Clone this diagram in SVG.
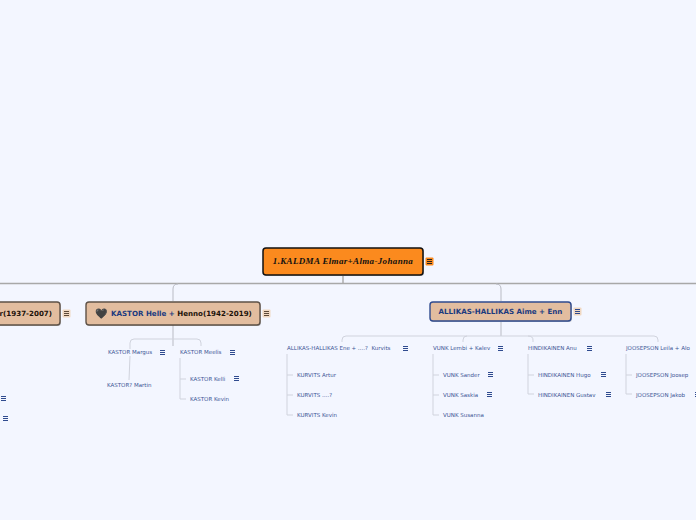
<svg xmlns="http://www.w3.org/2000/svg" width="696" height="520" viewBox="0 0 696 520">
<style>
text{font-family:"DejaVu Sans",Verdana,sans-serif}
.s{font-size:5.5px;fill:#3c5595;white-space:pre}
.m{font-size:7.1px;font-weight:bold;fill:#1a3a80}
.k{fill:#1c120a}
.c{fill:none;stroke:#d0d3dd;stroke-width:1}
.g{fill:none;stroke:#a8a8a8;stroke-width:1.4}
.d{fill:none;stroke:#b9bbc4;stroke-width:1}
.n{stroke:#2f4b8f;stroke-width:1;fill:none}
.box{fill:#e2bd9f;stroke:#5e5247;stroke-width:1.4}
.bg{fill:#f0d8c2}
.mi{stroke:#5c4a3a;stroke-width:1;fill:none}
.shadow{fill:#000;opacity:.22}
</style>
<defs>
<path id="nt" d="M0 .5h5M0 2.500h5M0 4.500h5" class="n"/>
<g id="mt"><rect x="-1.5" y="-1.500" width="8" height="8" rx="1" class="bg"/><path d="M0 .5h5M0 2.500h5M0 4.500h5" class="mi"/></g>
<g id="mtb"><rect x="-1.5" y="-1.500" width="8" height="8" rx="1" class="bg"/><path d="M0 .5h5M0 2.500h5M0 4.500h5" stroke="#2f4b8f" fill="none"/></g>
<g id="mtr"><rect x="-1.5" y="-1.500" width="8" height="8" rx="1" fill="#fb8a1e"/><path d="M0 .5h5M0 2.500h5M0 4.500h5" stroke="#222" fill="none"/></g>
</defs>
<rect width="696" height="520" fill="#f3f6ff"/>
<g id="connectors">
<path class="g" d="M343 276V283M0 283.500H696"/>
<path class="d" d="M173 301V289Q173 284 178 284M173 325V346"/>
<path class="d" d="M501 301V289Q501 284 496 284M501 322V336"/>
<path class="c" d="M130 349V343Q130 339 134 339H197Q201 339 201 343V346M130 356L129 380"/>
<path class="c" d="M180 358V399H186M180 379H186"/>
<path class="c" d="M342 342V340Q342 336 346 336H654Q658 336 658 340V342M463 342V340Q463 336 467 336M528 336Q533 336 533 340V342"/>
<path class="c" d="M287 354V415H293M287 375H293M287 395H293"/>
<path class="c" d="M433 354V415H439M433 375H439M433 395H439"/>
<path class="c" d="M528 354V394H534M528 375H534"/>
<path class="c" d="M626 354V394H632M626 375H632"/>
</g>
<g id="root"><rect x="264" y="249" width="160" height="27" rx="3" class="shadow"/><rect x="263" y="248" width="160" height="27" rx="3" fill="#fb8a1e" stroke="#111" stroke-width="1.500"/><text x="343" y="264" text-anchor="middle" style="font-family:'Liberation Serif',serif;font-size:9px;font-weight:bold;font-style:italic;letter-spacing:.34px" fill="#111">1.KALDMA Elmar+Alma-Johanna</text><use href="#mtr" x="427" y="259"/></g>
<g id="left-branch"><rect x="-59" y="303" width="120" height="23" rx="3" class="shadow"/><rect x="-60" y="302" width="120" height="23" rx="3" class="box"/><text x="52" y="316" text-anchor="end" class="m k">r(1937-2007)</text><use href="#mt" x="64" y="311"/></g>
<g id="kastor-helle"><rect x="87" y="303" width="174" height="23" rx="3" class="shadow"/><rect x="86" y="302" width="174" height="23" rx="3" class="box"/><text x="95" y="317" style="font-size:10px" fill="#444">🖤</text><text x="111" y="316" class="m">KASTOR Helle + <tspan class="k">Henno(1942-2019)</tspan></text><use href="#mt" x="264" y="311"/></g>
<g id="allikas-halikas"><rect x="431" y="303" width="141" height="19" rx="3" class="shadow"/><rect x="430" y="302" width="141" height="19" rx="3" class="box" style="stroke:#2f4b8f"/><text x="500.500" y="314" text-anchor="middle" class="m">ALLIKAS-HALLIKAS Aime + Enn</text><use href="#mtb" x="575" y="309"/></g>
<g id="left-notes"><use href="#nt" x="1" y="396"/><use href="#nt" x="3" y="416"/></g>
<g id="kastor-margus"><text x="108" y="354" class="s">KASTOR Margus</text><use href="#nt" x="160" y="350"/></g>
<g id="kastor-martin"><text x="107" y="387" class="s">KASTOR? Martin</text></g>
<g id="kastor-meelis"><text x="180" y="354" class="s">KASTOR Meelis</text><use href="#nt" x="230" y="350"/></g>
<g id="kastor-kelli"><text x="190" y="381" class="s">KASTOR Kelli</text><use href="#nt" x="234" y="376"/></g>
<g id="kastor-kevin"><text x="190" y="401" class="s">KASTOR Kevin</text></g>
<g id="ene"><text x="287" y="350" class="s">ALLIKAS-HALLIKAS Ene + ….?  Kurvits</text><use href="#nt" x="403" y="346"/></g>
<g id="artur"><text x="297" y="377" class="s">KURVITS Artur</text></g>
<g id="kurvits-q"><text x="297" y="397" class="s">KURVITS ….?</text></g>
<g id="kurvits-kevin"><text x="297" y="417" class="s">KURVITS Kevin</text></g>
<g id="lembi"><text x="433" y="350" class="s">VUNK Lembi + Kalev</text><use href="#nt" x="498" y="346"/></g>
<g id="sander"><text x="443" y="377" class="s">VUNK Sander</text><use href="#nt" x="488" y="372"/></g>
<g id="saskia"><text x="443" y="397" class="s">VUNK Saskia</text><use href="#nt" x="487" y="392"/></g>
<g id="susanna"><text x="443" y="417" class="s">VUNK Susanna</text></g>
<g id="anu"><text x="528" y="350" class="s">HINDIKAINEN Anu</text><use href="#nt" x="587" y="346"/></g>
<g id="hugo"><text x="538" y="377" class="s">HINDIKAINEN Hugo</text><use href="#nt" x="601" y="372"/></g>
<g id="gustav"><text x="538" y="397" class="s">HINDIKAINEN Gustav</text><use href="#nt" x="606" y="392"/></g>
<g id="leila"><text x="626" y="350" class="s">JOOSEPSON Leila + Alo</text></g>
<g id="joosep"><text x="636" y="377" class="s">JOOSEPSON Joosep</text></g>
<g id="jakob"><text x="636" y="397" class="s">JOOSEPSON Jakob</text><use href="#nt" x="695" y="392"/></g>
</svg>
